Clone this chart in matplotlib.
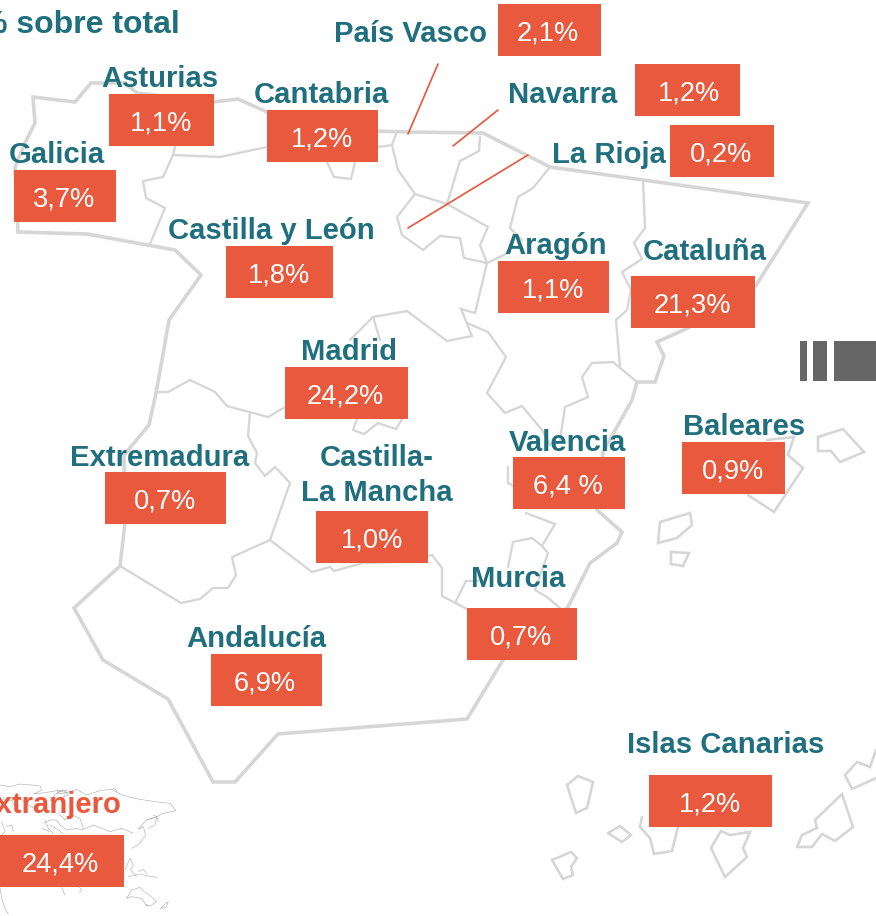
import matplotlib
matplotlib.use("Agg")
import matplotlib.pyplot as plt
from matplotlib.patches import Rectangle

# ---- data ----
regions = ["País Vasco", "Navarra", "La Rioja", "Asturias", "Cantabria", "Galicia",
           "Castilla y León", "Aragón", "Cataluña", "Madrid", "Extremadura",
           "Castilla-\nLa Mancha", "Andalucía", "Valencia", "Baleares", "Murcia",
           "Islas Canarias", "Extranjero"]
value_labels = ["2,1%", "1,2%", "0,2%", "1,1%", "1,2%", "3,7%", "1,8%", "1,1%", "21,3%",
                "24,2%", "0,7%", "1,0%", "6,9%", "6,4 %", "0,9%", "0,7%", "1,2%", "24,4%"]
title_text = "% sobre total"

# ---- layout (pixels) ----
boxes = [(498, 4, 601, 56), (635, 64, 740, 116), (670, 125, 774, 177), (109, 94, 214, 146),
         (267, 110, 378, 162), (14, 170, 116, 222), (226, 246, 333, 298), (498, 261, 609, 313),
         (631, 276, 755, 328), (285, 367, 408, 419), (105, 472, 226, 524), (316, 511, 428, 563),
         (211, 654, 322, 706), (513, 457, 625, 509), (682, 442, 785, 494), (467, 608, 577, 660),
         (649, 775, 772, 827), (-20, 835, 124, 887)]
value_x = [548, 689, 721, 161, 322, 64, 279, 553, 692, 345, 165, 372, 265, 568, 733, 521, 710, 60]
label_xy = [(410, 42), (563, 103), (609, 163), (160, 87), (321, 103), (57, 163), (271, 239),
            (556, 254), (705, 260), (349, 360), (160, 466), (377, 501), (256, 647), (567, 451),
            (744, 435), (518, 587), (726, 753), (121, 813)]

TEAL = "#1f6f7f"
RED = "#e9593d"
GREY = "#d6d6d6"

outer = [(18,232),(87,234),(175,250),(201,275),(169,320),(162,360),(156,393),(149,425),(124,455),
         (125,523),(120,566),(74,608),(103,660),(168,699),(213,782),(235,782),(278,734),(467,719),
         (503,660),(568,607),(590,563),(617,543),(622,532),(597,510),(603,452),(632,400),(637,382),
         (655,382),(664,356),(657,342),(688,328),(755,287),(808,203),(550,167),(483,133),(407,132),
         (377,131),(267,112),(238,99),(213,102),(137,93),(125,83),(91,83),(75,102),(33,97),(35,123),
         (25,143),(15,167),(18,232)]
inner = [
    [(175,147),(173,155),(163,177),(143,181),(146,198),(165,208),(150,244)],
    [(173,155),(220,157),(267,147),(378,147),(392,145),(396,134)],
    [(327,162),(334,177),(351,179),(355,162)],
    [(392,145),(398,170),(415,194),(397,217),(402,235),(423,250),(440,236),(460,238),(464,258),(487,263)],
    [(415,194),(447,204),(488,227),(480,245),(487,263),(475,313),(461,309),(472,336),(447,341),(407,311),(373,317),(350,340)],
    [(373,317),(380,340)],
    [(480,137),(479,151),(460,161),(447,204)],
    [(550,167),(533,188),(518,197),(510,228),(522,240)],
    [(487,263),(510,252)],
    [(467,323),(488,332),(506,357),(487,393),(505,413),(522,406),(542,430),(550,445)],
    [(560,440),(565,407),(588,397),(582,377),(592,363),(613,362),(637,382)],
    [(620,367),(616,320),(627,310),(631,290),(622,272),(642,259),(634,243),(645,228),(643,180)],
    [(508,467),(508,483),(516,487)],
    [(526,513),(555,524),(542,546),(548,553),(535,590),(547,597),(560,608)],
    [(542,546),(532,538),(513,542),(508,567)],
    [(120,566),(181,603),(200,599),(213,588),(228,588),(236,575),(232,557),(270,540),(312,572),(330,567),(334,571),(363,563),(400,562),(432,555),(442,568),(442,596),(467,609)],
    [(455,603),(466,581),(478,581)],
    [(270,540),(290,483),(275,467),(265,476),(255,463),(257,453),(248,436),(250,413)],
    [(156,392),(168,392),(190,380),(215,392),(227,406),(268,417),(285,407)],
    [(357,419),(353,430),(364,434),(378,423),(396,429),(402,419)],
]
islands = [
    [(767,440),(794,437),(788,455),(803,468),(774,512),(748,495)],
    [(818,437),(843,429),(864,452),(840,462),(831,451),(818,451),(818,437)],
    [(660,522),(690,513),(692,525),(677,538),(658,543),(660,522)],
    [(671,552),(689,553),(683,566),(671,564),(671,552)],
    [(567,785),(578,776),(593,782),(587,808),(576,813),(567,785)],
    [(552,860),(571,852),(577,858),(571,867),(573,875),(563,879),(552,860)],
    [(608,833),(620,826),(631,835),(622,842),(608,833)],
    [(642,817),(640,827),(650,838),(654,854),(672,851),(678,827)],
    [(711,848),(721,831),(730,835),(750,832),(743,848),(747,857),(725,877),(711,848)],
    [(797,847),(802,835),(817,828),(815,820),(842,794),(853,827),(835,841),(822,834),(812,847),(797,847)],
    [(876,778),(852,789),(845,775),(857,762),(870,767),(876,750)],
]
leaders = [[(438,64),(408,134)], [(498,110),(453,146)], [(528,155),(408,228)]]
grey_bars = [(800,341,807,381),(813,341,827,381),(834,341,876,381)]

# rough world outline, traced at 3x from the corner starting at (0, 770)
world_crop = [
    [(0,45),(30,50),(60,42),(95,45),(120,48),(125,60),(100,72),(135,68),(170,62),(200,68),(230,58),(260,75),(300,62),(335,58),(360,72),(390,82),(420,88),(465,95),(510,100),(528,122),(490,130),(470,140),(440,150),(425,165),(415,178),(430,170),(437,195),(415,225),(395,235)],
    [(170,70),(190,60),(205,75),(180,85),(165,100),(150,90),(170,70)],
    [(172,62),(200,60),(195,72),(172,70),(172,62)],
    [(335,58),(345,55),(352,68)],
    [(440,150),(470,140),(465,165),(445,175)],
    [(460,135),(470,140),(475,155)],
    [(130,160),(150,150),(170,150),(180,165),(200,180),(230,175),(245,180),(280,165),(330,185),(365,175),(400,190)],
    [(135,150),(145,175),(160,190)], [(150,165),(175,180),(190,192)], [(125,175),(150,185)],
    [(175,130),(195,150),(215,135),(240,145),(250,175)],
    [(10,85),(20,95),(35,90),(45,110)],
    [(60,85),(85,105),(110,120)],
    [(5,155),(15,185),(5,195)], [(20,170),(35,165),(40,185)],
    [(375,300),(390,265),(400,285),(392,300),(410,320)],
    [(385,320),(420,312),(445,318),(470,322)],
    [(415,305),(430,298),(440,310)],
    [(380,385),(395,360),(420,352),(432,365),(445,372),(470,395),(455,405),(440,408),(425,385),(395,380),(380,385)],
    [(438,402),(445,408)],
    [(482,415),(497,400),(505,395),(498,412),(482,415)],
    [(238,352),(245,360),(238,368)],
    [(0,352),(5,385),(15,415),(25,432)],
    [(185,352),(195,375)],
]

# ---- figure ----
W, H = 876, 916
fig = plt.figure(figsize=(W/100, H/100), dpi=100, facecolor="white")
ax = fig.add_axes([0, 0, 1, 1])
ax.set_xlim(0, W)
ax.set_ylim(H, 0)
ax.axis("off")

px = 0.72  # points per pixel at dpi 100

def poly(pts, **kw):
    ax.plot([p[0] for p in pts], [p[1] for p in pts], solid_joinstyle="miter",
            solid_capstyle="round", **kw)

for seg in world_crop:
    poly([(x/3, 770 + y/3) for x, y in seg], color="#a8a8a8", lw=0.4, zorder=1)
poly(outer, color=GREY, lw=3.6*px, zorder=2)
for seg in inner:
    poly(seg, color=GREY, lw=2.3*px, zorder=2)
for seg in islands:
    poly(seg, color=GREY, lw=2.6*px, zorder=2)
for seg in leaders:
    poly(seg, color=RED, lw=1.7*px, zorder=3)

for x0, y0, x1, y1 in grey_bars:
    ax.add_patch(Rectangle((x0, y0), x1-x0, y1-y0, fc="#666666", ec="none", zorder=3))

FONT = "Liberation Sans"
LABEL_SIZE = 21.1
for i, (name, val) in enumerate(zip(regions, value_labels)):
    x0, y0, x1, y1 = boxes[i]
    ax.add_patch(Rectangle((x0, y0), x1-x0, y1-y0, fc=RED, ec="none", zorder=4))
    ax.text(value_x[i], (y0+y1)/2 + 10.5, val, color="white", ha="center", va="baseline",
            fontsize=19.6, family=FONT, zorder=5)
    lx, ly = label_xy[i]
    if name == "Extranjero":
        ax.text(lx, ly, name, color=RED, ha="right", va="baseline", fontsize=LABEL_SIZE,
                family=FONT, fontweight="bold", zorder=5)
    elif "\n" in name:
        a, b = name.split("\n")
        ax.text(lx, ly-35, a, color=TEAL, ha="center", va="baseline", fontsize=LABEL_SIZE,
                family=FONT, fontweight="bold", zorder=5)
        ax.text(lx, ly, b, color=TEAL, ha="center", va="baseline", fontsize=LABEL_SIZE,
                family=FONT, fontweight="bold", zorder=5)
    else:
        ax.text(lx, ly, name, color=TEAL, ha="center", va="baseline", fontsize=LABEL_SIZE,
                family=FONT, fontweight="bold", zorder=5)

ax.text(180, 33, title_text, color=TEAL, ha="right", va="baseline", fontsize=23,
        family=FONT, fontweight="bold", zorder=5)

fig.savefig("out.png", dpi=100, facecolor="white")
